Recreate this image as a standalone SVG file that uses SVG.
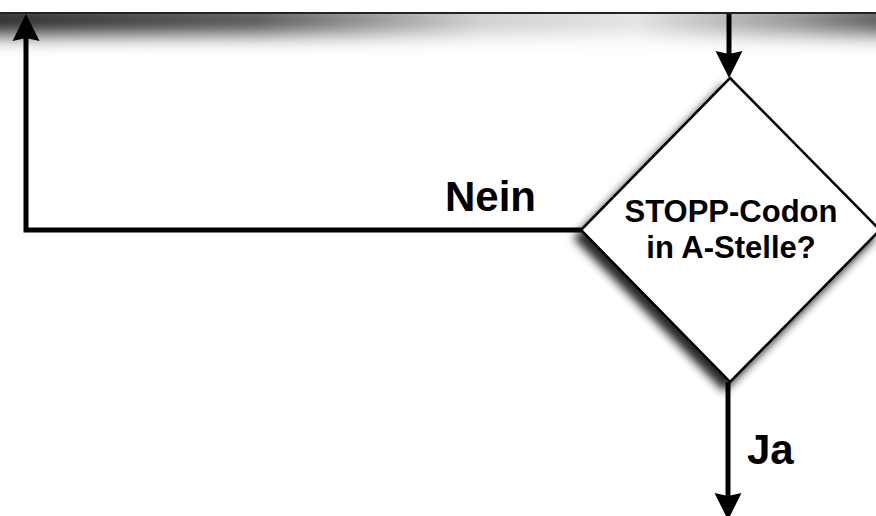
<svg xmlns="http://www.w3.org/2000/svg" width="876" height="516" viewBox="0 0 876 516">
  <style>
    .flow { fill: none; stroke: #000; stroke-width: 5; }
    .label { font-family: "Liberation Sans", Arial, sans-serif; font-weight: bold; fill: #000; }
    .big { font-size: 42px; }
    .inner { font-size: 31px; text-anchor: middle; }
    .shape { fill: #fff; stroke: #000; stroke-width: 2.5; }
  </style>
  <defs>
    <marker id="arrow" viewBox="-2 -16 32 32" refX="3" refY="0" markerWidth="32" markerHeight="32"
            markerUnits="userSpaceOnUse" orient="auto" overflow="visible">
      <path d="M0,-13.5 L27,0 L0,13.5 L3,0 Z" fill="#000"/>
    </marker>
    <filter id="soft" x="-20%" y="-100%" width="140%" height="400%">
      <feGaussianBlur stdDeviation="0 10"/>
    </filter>
    <filter id="drop" x="-20%" y="-20%" width="140%" height="150%">
      <feGaussianBlur in="SourceAlpha" stdDeviation="5"/>
      <feOffset dx="-6" dy="8" result="blur"/>
      <feComponentTransfer><feFuncA type="linear" slope="0.85"/></feComponentTransfer>
      <feMerge><feMergeNode/><feMergeNode in="SourceGraphic"/></feMerge>
    </filter>
    <linearGradient id="shade" x1="0" y1="0" x2="1" y2="0">
      <stop offset="0" stop-color="#000" stop-opacity="0.9"/>
      <stop offset="0.3" stop-color="#000" stop-opacity="0.7"/>
      <stop offset="0.55" stop-color="#000" stop-opacity="0.2"/>
      <stop offset="0.72" stop-color="#000" stop-opacity="0.12"/>
      <stop offset="0.9" stop-color="#000" stop-opacity="0.45"/>
      <stop offset="1" stop-color="#000" stop-opacity="0.7"/>
    </linearGradient>
  </defs>

  <rect width="876" height="516" fill="#fff"/>

  <!-- process box running off the top edge, with its shadow -->
  <g id="box-top">
    <rect x="-10" y="4" width="896" height="30" fill="url(#shade)" filter="url(#soft)"/>
    <rect x="-10" y="-60" width="896" height="73" fill="#fff" stroke="#222" stroke-width="2"/>
  </g>

  <!-- decision: stop codon in the A site? -->
  <g id="decision">
    <path class="shape" d="M730,78 L880,230 L730,382 L581,230 Z" filter="url(#drop)"/>
    <text class="label inner" x="731" y="222">STOPP-Codon</text>
    <text class="label inner" x="731" y="258">in A-Stelle?</text>
  </g>

  <g id="connectors">
    <!-- into the decision -->
    <line class="flow" x1="729" y1="14" x2="729" y2="54" marker-end="url(#arrow)"/>
    <!-- "Nein" loop back to the top -->
    <path class="flow" d="M582,230 L26,230 L26,38" stroke-linejoin="miter" marker-end="url(#arrow)"/>
    <!-- "Ja" continues downward -->
    <line class="flow" x1="728" y1="382" x2="728" y2="496" marker-end="url(#arrow)"/>
  </g>

  <g id="labels">
    <text class="label big" x="445" y="211">Nein</text>
    <text class="label big" x="747" y="464">Ja</text>
  </g>
</svg>
